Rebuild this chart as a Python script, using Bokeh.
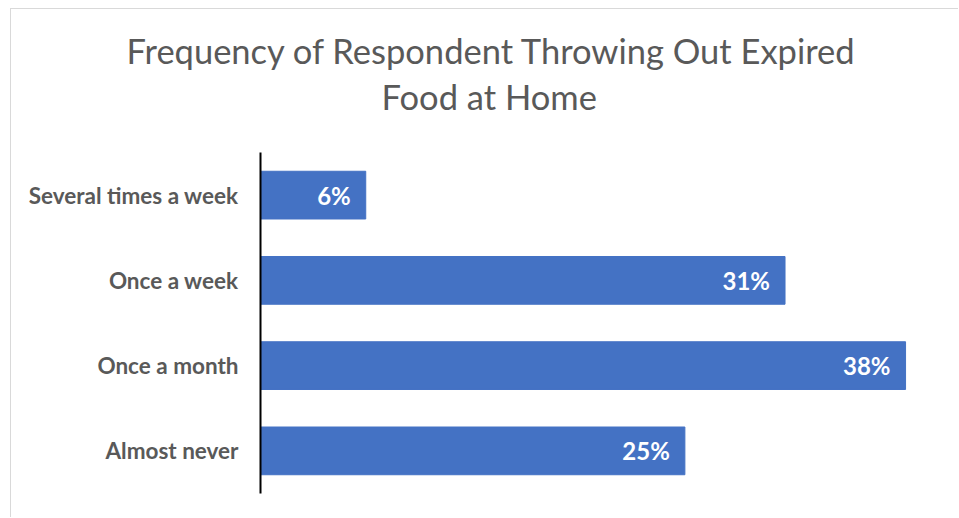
from bokeh.plotting import figure
from bokeh.models import ColumnDataSource, LabelSet, Range1d, FactorRange, Title
from bokeh.core.properties import value
from bokeh.embed import file_html
from bokeh.resources import INLINE

categories = ["Several times a week", "Once a week", "Once a month", "Almost never"]
values = [6.2, 30.9, 38.0, 25.0]
labels = ["6%", "31%", "38%", "25%"]
title_lines = ["Frequency of Respondent Throwing Out Expired", "Food at Home"]

FONT = "Lato"
source = ColumnDataSource(dict(cat=categories, val=values, lab=labels))

p = figure(width=948, height=509, y_range=FactorRange(*reversed(categories)),
           x_range=Range1d(0, 40), output_backend="svg", toolbar_location=None,
           min_border_left=249, min_border_right=20, min_border_top=143,
           min_border_bottom=25)
p.styles = {"margin-top": "8px", "margin-left": "10px",
            "border-top": "1px solid #d9d9d9", "border-left": "1px solid #d9d9d9"}
p.outline_line_color = None
p.grid.grid_line_color = None
p.hbar(y="cat", right="val", left=0, height=0.56, color="#4472C4", source=source)

p.xaxis.visible = False
ya = p.yaxis[0]
ya.axis_line_color = "black"
ya.axis_line_width = 2
ya.major_tick_line_color = None
ya.minor_tick_line_color = None
ya.major_label_standoff = 16
ya.major_label_text_font = FONT
ya.major_label_text_font_style = "bold"
ya.major_label_text_font_size = "22.5px"
ya.major_label_text_color = "#595959"

p.add_layout(LabelSet(x="val", y="cat", text="lab", source=source, x_offset=-15,
                      text_align="right", text_baseline="middle", text_color="white",
                      text_font=value(FONT), text_font_style="bold", text_font_size="24px"))

# spacer between the frame and the title lines
p.add_layout(Title(text=" ", align="left", standoff=10, text_font=FONT,
                   text_font_size="20px", text_color="#595959"), "above")
p.add_layout(Title(text=title_lines[1], align="left", offset=121, standoff=0,
                   text_font=FONT, text_font_style="normal", text_font_size="34.5px",
                   text_color="#595959"), "above")
p.add_layout(Title(text=title_lines[0], align="left", offset=-134, standoff=6,
                   text_font=FONT, text_font_style="normal", text_font_size="34.5px",
                   text_color="#595959"), "above")

open("out.html", "w").write(file_html(p, INLINE))
